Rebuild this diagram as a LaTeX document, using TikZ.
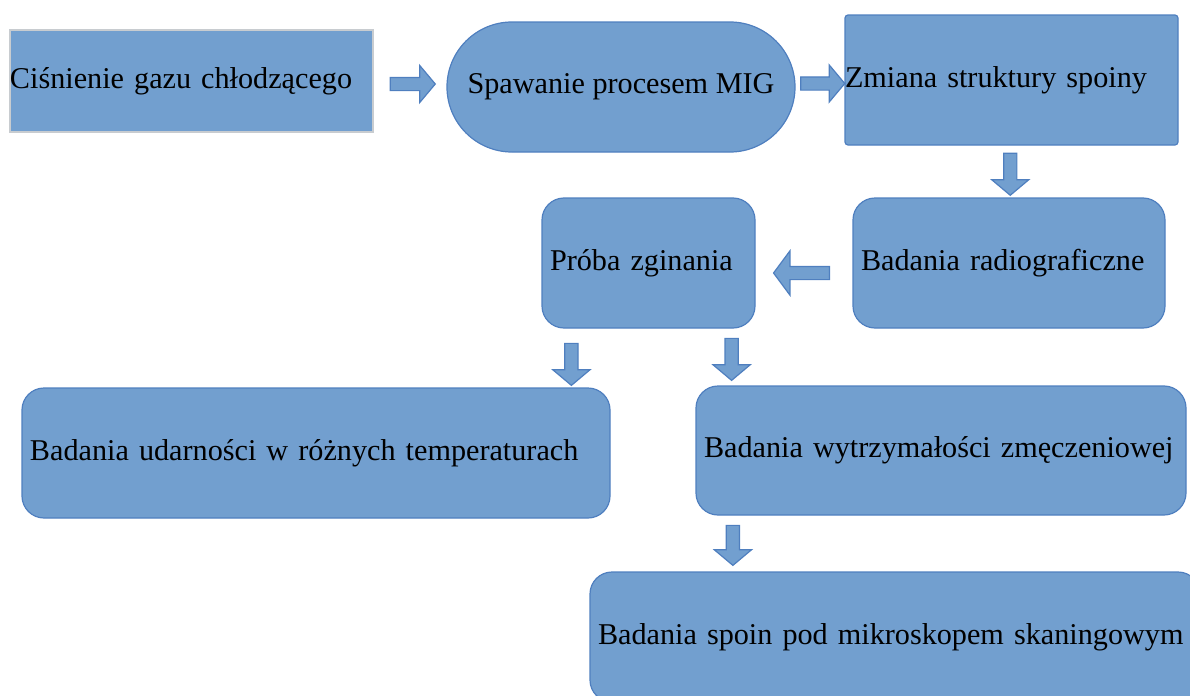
\documentclass[tikz,border=0pt]{standalone}
\usepackage{fontspec}
\setmainfont{Liberation Serif}
\usetikzlibrary{shapes.arrows,calc}

\definecolor{boxfill}{HTML}{729FCF}
\definecolor{boxline}{HTML}{4F7FBF}
\definecolor{boxgrey}{HTML}{C8CCD0}

\begin{document}
\begin{tikzpicture}
    [
      x=0.5pt,y=-0.5pt,
      every node/.style={font=\fontsize{15.1pt}{18pt}\selectfont},
      plainbox/.style={rectangle,draw=boxline,fill=boxfill,line width=0.6pt,minimum height=65pt,inner xsep=0pt,align=left},
      roundbox/.style={rectangle,rounded corners=11pt,draw=boxline,fill=boxfill,line width=0.6pt,minimum height=65pt,inner xsep=4pt,align=left},
      stadium/.style={rectangle,rounded corners=32.5pt,draw=boxline,fill=boxfill,line width=0.6pt,minimum width=174pt,minimum height=65pt},
      blockarrow/.style={single arrow,draw=boxline,fill=boxfill,line width=0.6pt,inner xsep=0pt,inner ysep=3pt,single arrow head extend=6pt,single arrow tip angle=100,single arrow head indent=0pt},
    ]

    \useasboundingbox (0,0) rectangle (1190,696);

    \node (cisnienie) [plainbox,draw=boxgrey,text width=181.5pt,minimum height=51pt] at (191.5,81) {Ciśnienie gazu chłodzącego};
    \node (spawanie) [stadium] at (621,87) {Spawanie procesem MIG};
    \node (zmiana) [plainbox,rounded corners=1.5pt,text width=166.5pt] at (1011.5,80) {Zmiana struktury spoiny};
    \node (radio) [roundbox,text width=148pt] at (1009,263) {Badania radiograficzne};
    \node (proba) [roundbox,text width=98.5pt] at (648.5,263) {Próba zginania};
    \node (udar) [roundbox,text width=286pt] at (316,453) {Badania udarności w różnych temperaturach};
    \node (wytrz) [roundbox,text width=237pt,minimum height=64.5pt] at (941,450.5) {Badania wytrzymałości zmęczeniowej};
    \node (skan) [roundbox,text width=297pt] at (895,637) {Badania spoin pod mikroskopem skaningowym};

    \node (a-cis-spa) [blockarrow,minimum height=22.5pt] at ($(cisnienie.east)!0.5!(spawanie.west)$) {};
    \node (a-spa-zmi) [blockarrow,minimum height=22pt] at ($(spawanie.east)!0.5!(zmiana.west)$) {};
    \node (a-zmi-rad) [blockarrow,rotate=-90,minimum height=21pt] at ($(zmiana.south)!0.5!(radio.north)$) {};
    \node (a-rad-pro) [blockarrow,rotate=180,minimum height=28pt,single arrow head extend=7.75pt,single arrow tip angle=107] at ($(radio.west)!0.5!(proba.east)+(0,10)$) {};
    \node (a-pro-uda) [blockarrow,rotate=-90,minimum height=21pt] at ($(proba.south west)+(30,33)$) {};
    \node (a-pro-wyt) [blockarrow,rotate=-90,minimum height=21pt] at ($(proba.south east)+(-24,28)$) {};
    \node (a-wyt-ska) [blockarrow,rotate=-90,minimum height=20pt] at ($(wytrz.south west)+(37.5,27)$) {};

  \end{tikzpicture}
\end{document}
